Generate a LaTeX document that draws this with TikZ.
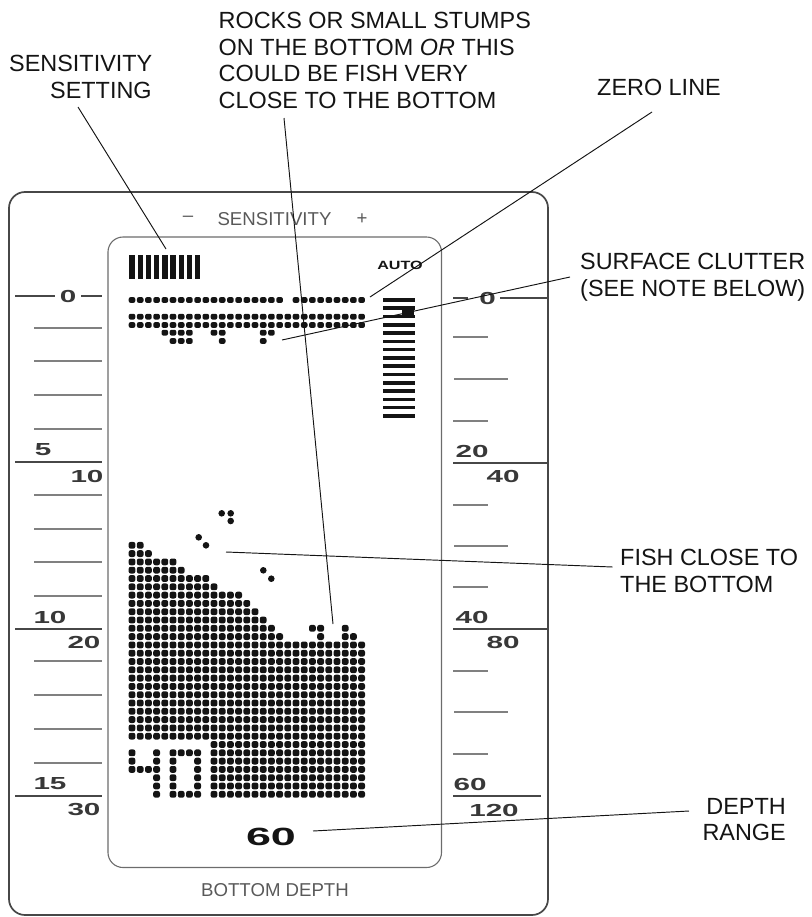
\documentclass[tikz,border=0pt]{standalone}
\usepackage{fontspec}
\setmainfont{Liberation Sans}
\newfontfamily\widefont[FakeStretch=1.8]{Liberation Sans}
\newfontfamily\numfont[FakeStretch=1.7]{Liberation Sans}
\newfontfamily\autofont[FakeStretch=1.35]{Liberation Sans}
\usetikzlibrary{calc}
\definecolor{inkk}{gray}{0.08}
\definecolor{tickk}{gray}{0.5}
\definecolor{softk}{gray}{0.28}
\definecolor{capk}{gray}{0.35}
\newcommand{\dotcell}[2]{\fill[inkk,rounded corners=2.2bp] ({132+8.2*(#1)-3.4},{545.3+8.3*(#2)-3.4}) rectangle ++(6.8,6.8);}
\newcommand{\topdot}[2]{\fill[inkk,rounded corners=2bp] ({132+8.2*(#1)-3.3},{#2-2.9}) rectangle ++(6.6,5.8);}
\tikzset{
 callout/.style={font=\fontsize{23.5}{26.6}\selectfont,text=inkk,inner sep=0pt,align=left,anchor=north west},
 leader/.style={draw=inkk,line width=0.95bp},
 tick/.style={draw=tickk,line width=1.2bp},
 major/.style={draw=softk,line width=1.3bp},
 scaleno/.style={font=\numfont\bfseries\fontsize{17.5}{18}\selectfont,text=inkk!85,inner sep=0pt},
 caption/.style={font=\fontsize{18.7}{20}\selectfont,text=capk,inner sep=0pt},
}
\begin{document}
\begin{tikzpicture}[x=1bp,y=-1bp]
\useasboundingbox (0,0) rectangle (812,917);
% panels
\draw[draw=softk,line width=1.7bp,rounded corners=16bp] (9,192) rectangle (548,915);
\draw[draw=softk!80,line width=1.1bp,rounded corners=15bp] (108,237) rectangle (441.5,867.5);
% left scale
\draw[major] (15,296) -- (55,296) (81,296) -- (102,296);
\node[scaleno] (l0) at (68,296) {0};
\foreach \y in {328,361,395,429,495,529,562,596,661,695,729,763}{\draw[tick] (34,\y) -- (102,\y);}
\foreach \y in {462,629,796}{\draw[major] (15,\y) -- (102,\y);}
\node[scaleno] (l5) at (43,450) {5};
\node[scaleno] (l10) at (87,476) {10};
\node[scaleno] (l10b) at (50,617) {10};
\node[scaleno] (l20) at (84,642) {20};
\node[scaleno] (l15) at (50,784) {15};
\node[scaleno] (l30) at (84,810) {30};
% right scale
\draw[major] (453,298) -- (468,298) (500,298) -- (547,298);
\node[scaleno] (r0) at (487.5,298) {0};
\foreach \y in {337,421,505,587,671,754}{\draw[tick] (453,\y) -- (488,\y);}
\foreach \y in {379,546,712}{\draw[tick] (454,\y) -- (508,\y);}
\foreach \y in {463,629}{\draw[major] (453,\y) -- (547,\y);}
\draw[major] (453,796) -- (541,796);
\node[scaleno] (r20) at (472,451) {20};
\node[scaleno] (r40) at (503,476) {40};
\node[scaleno] (r40b) at (472,617) {40};
\node[scaleno] (r80) at (503,642) {80};
\node[scaleno] (r60) at (470,784) {60};
\node[scaleno] (r120) at (494,810) {120};
% sensitivity bars
\foreach \i in {0,...,8}{\fill[inkk] ({129.3+8.2*\i},255) rectangle ({134.7+8.2*\i},279);}
% right bar stack
\foreach \i in {0,...,14}{\fill[inkk] (383,{298.2+8.28*\i}) rectangle (414.5,{301.8+8.28*\i});}
\fill[inkk] (402,307) rectangle (414,318);
% zero line & clutter
\foreach \i in {0,...,18,20,21,...,28}{\topdot{\i}{300}}
\foreach \i in {0,...,28}{\topdot{\i}{316.7}\topdot{\i}{325}}
\foreach \i in {4,5,6,7,10,11,16,17}{\topdot{\i}{332.7}}
\foreach \i in {5,6,7,11,16}{\topdot{\i}{341}}
% fish
\foreach \x/\y in {221.7/513.3,230.7/513.3,230.7/521,198.7/537.3,206/545.3,263.3/570.3,271.3/578.7}{\fill[inkk] (\x,\y) circle (3.3bp);}
% bottom echo: column / top row
\foreach \c/\t in {0/0,1/0,2/1,3/2,4/2,5/2,6/3,7/4,8/4,9/4,10/5,11/6,12/6,13/6,14/7,15/8,16/9,17/10,18/11,19/12,20/12,21/12,22/12,23/10,24/12,25/12,26/10,27/11,28/12}{
  \ifnum\c<10
    \foreach \r in {\t,...,23}{\dotcell{\c}{\r}}
  \else
    \foreach \r in {\t,...,30}{\dotcell{\c}{\r}}
  \fi
}
\dotcell{22}{10}
% digits 40
\foreach \c/\r in {0/25,0/26,0/27,1/27,2/27,3/25,3/26,3/27,3/28,3/29,3/30,5/25,5/26,5/27,5/28,5/29,5/30,8/25,8/26,8/27,8/28,8/29,8/30,6/25,7/25,6/30,7/30}{\dotcell{\c}{\r}}
% texts inside
\node[caption] (minus) at (188,219) {--};
\node[caption] (senstitle) at (274.5,219) {SENSITIVITY};
\node[caption] (plus) at (362,219) {+};
\node[caption] (botdepth) at (275,890) {BOTTOM DEPTH};
\node[font=\autofont\bfseries\fontsize{12}{13}\selectfont,text=inkk,inner sep=0pt] (auto) at (400,265) {AUTO};
\node[font=\widefont\bfseries\fontsize{25}{26}\selectfont,text=inkk,inner sep=0pt] (sixty) at (271,837) {60};
% callouts
\node[callout] (sens) at (9,55) {SENSITIVITY\\\hspace*{41bp}SETTING};
\node[callout] (rocks) at (218.5,12) {ROCKS OR SMALL STUMPS\\ON THE BOTTOM \textit{OR} THIS\\COULD BE FISH VERY\\CLOSE TO THE BOTTOM};
\node[callout] (zero) at (597,79) {ZERO LINE};
\node[callout] (surf) at (580,253) {SURFACE CLUTTER\\(SEE NOTE BELOW)};
\node[callout] (fish) at (620,549) {FISH CLOSE TO\\THE BOTTOM};
\node[callout,align=right,anchor=north east] (drange) at (786,798) {DEPTH\\RANGE};
% connector targets
\coordinate (tsens) at (166,249);
\coordinate (trocks) at (333,624);
\coordinate (tzero) at (370,297);
\coordinate (tsurf) at (282,340);
\coordinate (tfish) at (226,552);
\coordinate (tdepth) at (313,831);
\draw[leader] ($(sens.north west)+(69,52)$) -- (tsens);
\draw[leader] ($(rocks.north west)+(65.5,106)$) -- (trocks);
\draw[leader] ($(zero.north west)+(55,33)$) -- (tzero);
\draw[leader] ($(surf.north west)+(-10,24)$) -- (tsurf);
\draw[leader] ($(fish.north west)+(-7.3,18)$) -- (tfish);
\draw[leader] ($(drange.north east)+(-97,13)$) -- (tdepth);
\end{tikzpicture}
\end{document}
